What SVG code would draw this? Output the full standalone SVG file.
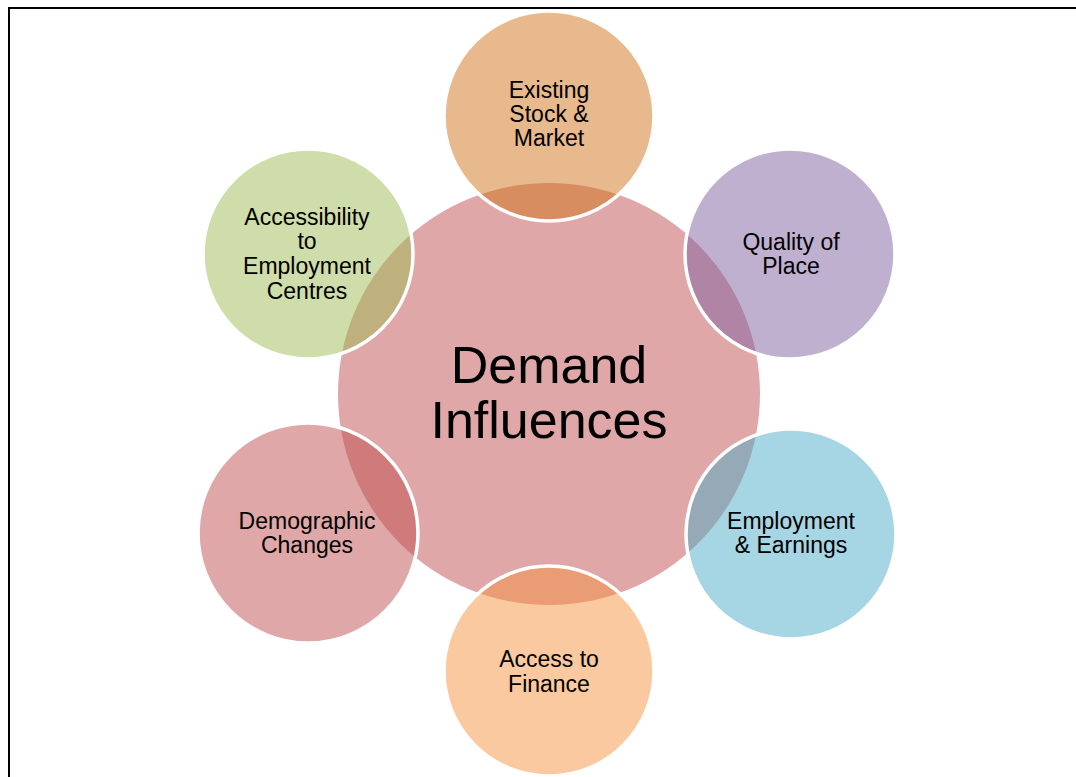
<svg xmlns="http://www.w3.org/2000/svg" width="1076" height="777" viewBox="0 0 1076 777">
<style>
.sat{stroke:#ffffff;stroke-width:3.5;fill-opacity:0.5}
.lbl{font-family:"Liberation Sans",Arial,sans-serif;font-size:23px;fill:#000000;text-anchor:middle}
.big{font-family:"Liberation Sans",Arial,sans-serif;font-size:52px;fill:#000000;text-anchor:middle}
</style>
<rect width="1076" height="777" fill="#ffffff"/>
<path d="M9,777 V8 H1076" fill="none" stroke="#000000" stroke-width="2"/>
<g id="center">
<circle cx="549" cy="394" r="211" fill="#DFA7A7"/>
<text class="big" x="549" y="383">Demand</text>
<text class="big" x="549" y="438">Influences</text>
</g>
<g id="existing">
<circle class="sat" cx="549" cy="116" r="105" fill="#D17319"/>
<text class="lbl" x="549" y="98">Existing</text>
<text class="lbl" x="549" y="122">Stock &amp;</text>
<text class="lbl" x="549" y="146">Market</text>
</g>
<g id="quality">
<circle class="sat" cx="790" cy="254" r="105" fill="#7F61A1"/>
<text class="lbl" x="791" y="250">Quality of</text>
<text class="lbl" x="791" y="274">Place</text>
</g>
<g id="employment">
<circle class="sat" cx="791" cy="534" r="105" fill="#4DABC7"/>
<text class="lbl" x="791" y="529">Employment</text>
<text class="lbl" x="791" y="553">&amp; Earnings</text>
</g>
<g id="finance">
<circle class="sat" cx="549" cy="671" r="105" fill="#F59341"/>
<text class="lbl" x="549" y="667">Access to</text>
<text class="lbl" x="549" y="692">Finance</text>
</g>
<g id="demographic">
<circle class="sat" cx="308" cy="533" r="110" fill="#BF4F4F"/>
<text class="lbl" x="307" y="529">Demographic</text>
<text class="lbl" x="307" y="553">Changes</text>
</g>
<g id="accessibility">
<circle class="sat" cx="308" cy="254" r="105" fill="#9DBB55"/>
<text class="lbl" x="307" y="225">Accessibility</text>
<text class="lbl" x="307" y="249">to</text>
<text class="lbl" x="307" y="274">Employment</text>
<text class="lbl" x="307" y="299">Centres</text>
</g>
<g id="connectors"></g>
</svg>
